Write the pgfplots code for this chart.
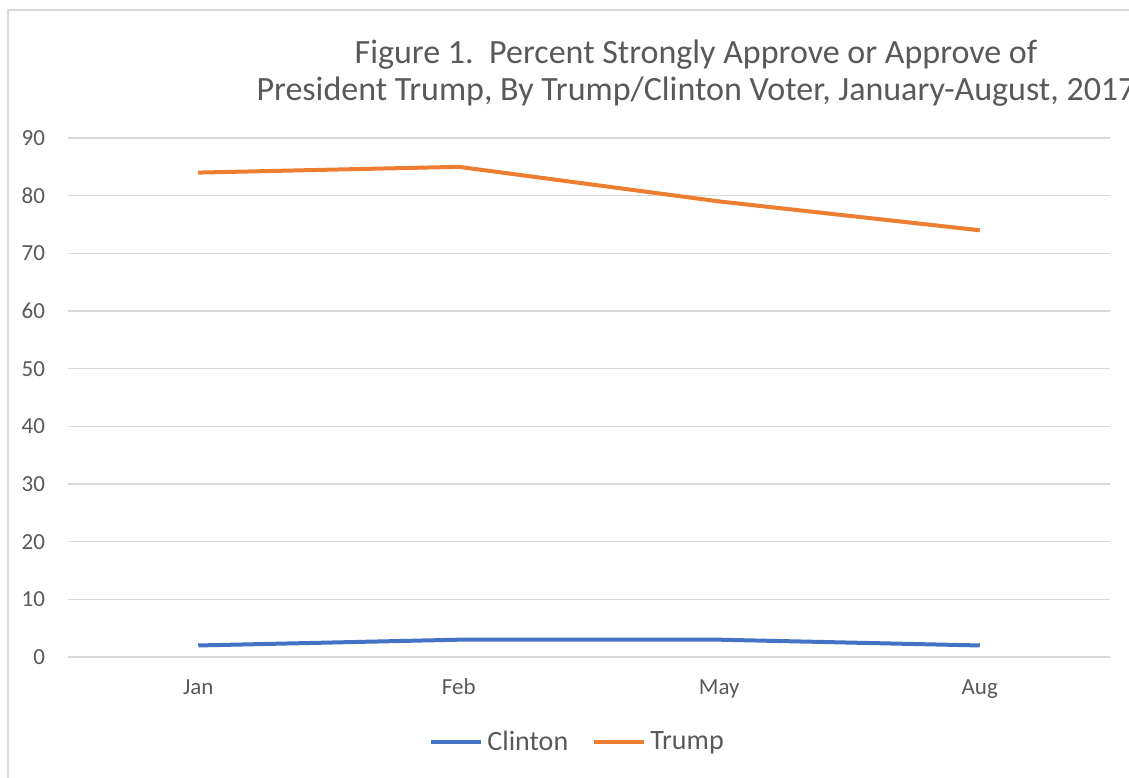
\documentclass[border=0pt]{standalone}
\usepackage{fontspec}
\setmainfont{Carlito}
\usepackage{pgfplots}
\pgfplotsset{compat=1.18}
\definecolor{cblue}{HTML}{4472C4}
\definecolor{corange}{HTML}{ED7D31}
\definecolor{tgray}{HTML}{595959}
\definecolor{ggray}{HTML}{D9D9D9}
\begin{document}
\begin{tikzpicture}
\useasboundingbox (0pt,0pt) rectangle (564.5pt,388.5pt);
\draw[ggray, line width=0.8pt] (4pt,-5pt) rectangle (575pt,383.5pt);
\node[text=tgray, font=\fontsize{17}{20}\selectfont, align=center] at (348pt,352pt) {Figure 1.\ \ Percent Strongly Approve or Approve of\\[-1.5pt]President Trump, By Trump/Clinton Voter, January-August, 2017};
\begin{axis}[
  at={(34pt,60pt)}, anchor=south west,
  scale only axis, width=521pt, height=259.5pt,
  xmin=-0.5, xmax=3.5, ymin=0, ymax=90,
  xtick={0,1,2,3}, xticklabels={Jan,Feb,May,Aug},
  ytick={0,10,...,90},
  axis line style={draw=none},
  major tick length=0pt,
  ymajorgrids, grid style={ggray, line width=0.8pt},
  tick label style={text=tgray, font=\fontsize{11.5}{13}\selectfont},
  /pgf/number format/assume math mode=true,
  yticklabel style={xshift=-8pt},
  xticklabel style={yshift=-8pt, text height=1.5ex, text depth=0.4ex},
  legend style={at={(0.49,-0.164)}, anchor=center, draw=none, fill=none,
    font=\fontsize{14}{16}\selectfont, text=tgray,
    /tikz/every even column/.append style={column sep=10pt}},
  legend columns=2,
  legend image code/.code={\draw[#1, line width=2pt] (0pt,0pt) -- (25pt,0pt);},
]
\addplot[cblue, line width=2pt] coordinates {(0,2) (1,3) (2,3) (3,2)};
\addlegendentry{Clinton}
\addplot[corange, line width=2pt] coordinates {(0,84) (1,85) (2,79) (3,74)};
\addlegendentry{Trump}
\end{axis}
\end{tikzpicture}
\end{document}
